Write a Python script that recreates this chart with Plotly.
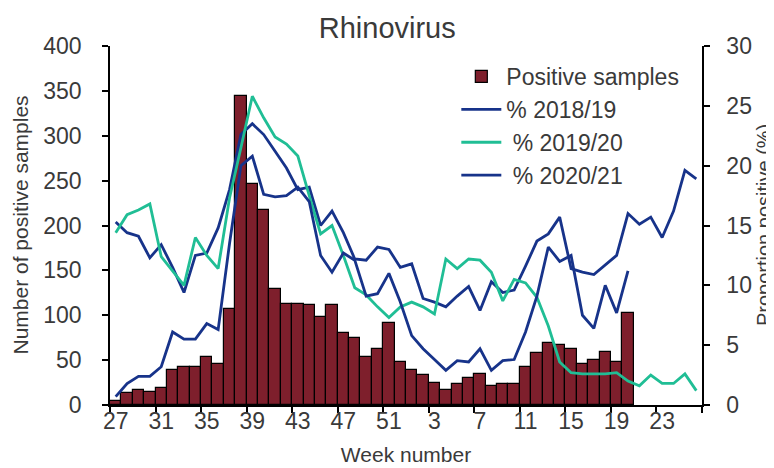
import plotly.graph_objects as go

# Week numbers (season runs week 27 -> week 26)
weeks = list(range(27, 53)) + list(range(1, 27))
x_tick_labels = ["27", "31", "35", "39", "43", "47", "51", "3", "7", "11", "15", "19", "23"]

# Number of positive samples, 2020/21 (weeks 27..20)
positive_samples = [
    4, 13, 17, 15, 19, 39, 42, 42, 53, 46, 107, 344, 246, 217, 129, 113,
    113, 111, 98, 111, 80, 75, 54, 62, 91, 48,
    39, 33, 24, 17, 23, 30, 35, 21, 23, 23, 42, 58, 69, 67, 62, 46, 50, 59, 48, 102,
]

# Proportion positive (%)
pct_2018_19 = [
    15.3, 14.4, 14.1, 12.3, 13.4, 11.5, 9.4, 12.5, 12.7, 14.8, 18.0, 22.6, 23.5,
    22.6, 21.2, 19.8, 18.0, 18.2, 15.0, 16.2, 14.4, 12.2, 12.1, 13.2, 13.0, 11.5,
    11.8, 8.9, 8.6, 8.2, 9.1, 9.9, 7.9, 10.3, 9.4, 9.6, 11.6, 13.7, 14.3, 15.7,
    11.4, 11.1, 10.9, 11.7, 12.5, 16.0, 15.1, 15.7, 14.0, 16.2, 19.6, 18.9,
]
pct_2019_20 = [
    14.4, 15.9, 16.3, 16.8, 12.4, 11.2, 10.0, 14.0, 12.5, 11.4, 17.3, 21.5, 25.8,
    24.0, 22.4, 21.8, 20.8, 17.5, 14.3, 15.0, 12.5, 9.8, 9.2, 8.2, 7.3, 8.2,
    8.6, 8.2, 7.6, 12.2, 11.4, 12.2, 12.1, 11.1, 8.7, 10.5, 10.2, 9.0, 6.6, 3.6,
    2.7, 2.6, 2.6, 2.6, 2.7, 2.0, 1.6, 2.5, 1.8, 1.8, 2.6, 1.2,
]
pct_2020_21 = [
    0.7, 1.8, 2.4, 2.4, 3.2, 6.1, 5.5, 5.5, 6.8, 6.3, 13.5, 20.0, 20.8,
    17.6, 17.4, 17.5, 18.2, 17.0, 12.5, 11.1, 12.7, 12.1, 9.1, 9.3, 11.0, 8.6,
    5.8, 4.7, 3.8, 2.9, 3.7, 3.6, 4.7, 2.9, 3.7, 3.8, 6.1, 9.1, 13.2, 12.0,
    12.5, 7.5, 6.4, 10.0, 7.7, 11.2,
]

BAR_COLOR = "#7E1F2C"
NAVY = "#17338A"
TEAL = "#20BE95"
FONT = "Liberation Sans, Arial, sans-serif"
TEXT = "#3a3a3a"

pos = list(range(len(weeks)))

fig = go.Figure()

fig.add_trace(go.Bar(
    x=pos[:len(positive_samples)],
    y=positive_samples,
    name="Positive samples",
    marker=dict(color=BAR_COLOR, line=dict(color="black", width=1.2)),
))

fig.add_trace(go.Scatter(
    x=pos[:len(pct_2018_19)], y=pct_2018_19, name="% 2018/19",
    mode="lines", line=dict(color=NAVY, width=2.8), yaxis="y2",
))
fig.add_trace(go.Scatter(
    x=pos[:len(pct_2019_20)], y=pct_2019_20, name="\u00a0% 2019/20",
    mode="lines", line=dict(color=TEAL, width=2.8), yaxis="y2",
))
fig.add_trace(go.Scatter(
    x=pos[:len(pct_2020_21)], y=pct_2020_21, name="\u00a0% 2020/21",
    mode="lines", line=dict(color=NAVY, width=2.8), yaxis="y2",
))

tick_pos = [weeks.index(int(t)) for t in x_tick_labels]

fig.update_layout(
    width=774, height=468,
    margin=dict(l=102, r=80, t=38, b=71),
    paper_bgcolor="white", plot_bgcolor="white",
    font=dict(family=FONT, size=23, color=TEXT),
    title=dict(text="Rhinovirus", x=0.49, xanchor="center", y=0.958, yanchor="middle",
               font=dict(size=29, color=TEXT)),
    bargap=0,
    showlegend=True,
    legend=dict(x=0.585, y=0.975, xanchor="left", yanchor="top",
                bgcolor="rgba(255,255,255,0)", font=dict(size=23, color=TEXT),
                itemwidth=40, tracegroupgap=0),
    xaxis=dict(
        range=[-0.5, len(weeks) - 0.5],
        tickmode="array", tickvals=tick_pos, ticktext=x_tick_labels,
        ticks="", showgrid=False, zeroline=False,
        showline=True, linecolor="black", linewidth=1.5,
        minor=dict(tickmode="array",
                   tickvals=[p - 0.5 for p in range(0, len(weeks) + 1, 4)],
                   ticks="outside", ticklen=6, tickcolor="black", tickwidth=1.5),
        ticklabelstandoff=-5,
        title=dict(text="Week number", standoff=14, font=dict(size=21, color=TEXT)),
    ),
    yaxis=dict(
        range=[0, 400], tickmode="linear", dtick=50,
        ticks="outside", ticklen=6, tickcolor="black", tickwidth=1.5,
        showline=True, linecolor="black", linewidth=1.5,
        showgrid=False, zeroline=False, ticklabelstandoff=16,
    ),
    yaxis2=dict(
        range=[0, 30], tickmode="linear", dtick=5, overlaying="y", side="right",
        ticks="outside", ticklen=6, tickcolor="black", tickwidth=1.5,
        showline=True, linecolor="black", linewidth=1.5,
        showgrid=False, zeroline=False, ticklabelstandoff=12,
    ),
    annotations=[
        dict(text="Number of positive samples", xref="paper", yref="paper",
             x=-0.152, y=0.5, xanchor="center", yanchor="middle", textangle=-90,
             showarrow=False, font=dict(size=21, color=TEXT)),
        dict(text="Proportion positive (%)", xref="paper", yref="paper",
             x=1.104, y=0.5, xanchor="center", yanchor="middle", textangle=-90,
             showarrow=False, font=dict(size=20, color=TEXT)),
    ],
)

fig.write_html("out.html")
